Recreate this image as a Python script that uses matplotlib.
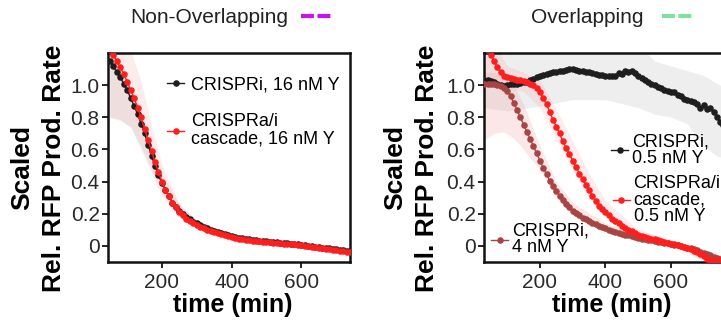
import numpy as np
import matplotlib
matplotlib.use("Agg")
import matplotlib.pyplot as plt
from matplotlib.lines import Line2D

plt.rcParams['font.family'] = ['Liberation Sans', 'DejaVu Sans']

# ---- data: Non-Overlapping (left) ----
t_left = np.arange(50, 741, 10)
crispri_16 = [1.15, 1.12, 1.08, 1.05, 1.01, 0.97, 0.92, 0.87, 0.82, 0.76,
              0.70, 0.63, 0.56, 0.50, 0.44, 0.39, 0.35, 0.31, 0.27, 0.24,
              0.22, 0.20, 0.18, 0.165, 0.15, 0.14, 0.13, 0.12, 0.11, 0.10,
              0.095, 0.088, 0.082, 0.075, 0.068, 0.062, 0.057, 0.052, 0.048, 0.044,
              0.041, 0.038, 0.035, 0.032, 0.030, 0.028, 0.026, 0.024, 0.022, 0.021,
              0.019, 0.017, 0.015, 0.012, 0.010, 0.007, 0.004, 0.002, -0.001, -0.004,
              -0.007, -0.010, -0.013, -0.016, -0.019, -0.022, -0.024, -0.027, -0.030, -0.032]
cascade_16 = [1.22, 1.19, 1.15, 1.11, 1.07, 1.02, 0.97, 0.92, 0.86, 0.80,
              0.73, 0.66, 0.59, 0.52, 0.46, 0.40, 0.35, 0.31, 0.27, 0.24,
              0.21, 0.19, 0.17, 0.155, 0.14, 0.13, 0.12, 0.11, 0.10, 0.092,
              0.085, 0.078, 0.072, 0.066, 0.060, 0.055, 0.050, 0.046, 0.042, 0.039,
              0.036, 0.033, 0.031, 0.029, 0.027, 0.025, 0.023, 0.021, 0.019, 0.017,
              0.015, 0.013, 0.011, 0.009, 0.007, 0.004, 0.002, -0.001, -0.004, -0.007,
              -0.010, -0.013, -0.017, -0.020, -0.023, -0.027, -0.030, -0.033, -0.037, -0.040]

# error bands (sparse)
band_t_left = [50, 80, 110, 140, 170, 200, 250, 300, 400, 500, 600, 740]
crispri_16_lo = [0.80, 0.78, 0.74, 0.60, 0.45, 0.31, 0.18, 0.11, 0.05, 0.02, 0.0, -0.04]
crispri_16_hi = [1.25, 1.15, 1.00, 0.85, 0.65, 0.45, 0.26, 0.16, 0.075, 0.04, 0.015, -0.025]
cascade_16_lo = [0.80, 0.79, 0.74, 0.62, 0.48, 0.33, 0.18, 0.11, 0.045, 0.018, -0.005, -0.055]
cascade_16_hi = [1.40, 1.35, 1.22, 1.02, 0.75, 0.50, 0.26, 0.16, 0.07, 0.035, 0.012, -0.028]

# ---- data: Overlapping (right) ----
t_right = np.arange(30, 771, 10)
crispri_05 = [1.03, 1.03, 1.025, 1.02, 1.01, 1.00, 0.995, 1.00, 1.005, 1.01,
              1.01, 1.015, 1.02, 1.02, 1.03, 1.04, 1.05, 1.06, 1.065, 1.07,
              1.075, 1.08, 1.08, 1.085, 1.09, 1.095, 1.10, 1.10, 1.095, 1.09,
              1.085, 1.08, 1.08, 1.075, 1.07, 1.065, 1.065, 1.06, 1.06, 1.055,
              1.06, 1.075, 1.07, 1.085, 1.08, 1.09, 1.075, 1.06, 1.045, 1.035,
              1.02, 1.01, 1.00, 0.99, 0.98, 0.97, 0.965, 0.96, 0.955, 0.94,
              0.935, 0.915, 0.905, 0.90, 0.895, 0.88, 0.86, 0.875, 0.85, 0.86,
              0.83, 0.80, 0.77, 0.75, 0.73]
cascade_05 = [1.25, 1.22, 1.19, 1.15, 1.11, 1.08, 1.06, 1.05, 1.045, 1.04,
              1.035, 1.03, 1.025, 1.02, 1.01, 1.00, 0.98, 0.955, 0.92, 0.88,
              0.83, 0.785, 0.74, 0.70, 0.65, 0.61, 0.57, 0.53, 0.49, 0.45,
              0.415, 0.38, 0.345, 0.31, 0.28, 0.25, 0.23, 0.21, 0.19, 0.17,
              0.155, 0.14, 0.125, 0.11, 0.10, 0.09, 0.08, 0.07, 0.062, 0.055,
              0.05, 0.045, 0.04, 0.035, 0.03, 0.025, 0.02, 0.015, 0.01, 0.005,
              0.0, -0.005, -0.01, -0.02, -0.03, -0.04, -0.05, -0.065, -0.08, -0.09,
              -0.09, -0.09, -0.09, -0.09, -0.09]
crispri_4 = [1.01, 1.01, 1.01, 1.005, 1.0, 0.995, 0.985, 0.965, 0.93, 0.89,
             0.845, 0.80, 0.755, 0.71, 0.665, 0.62, 0.575, 0.53, 0.485, 0.445,
             0.405, 0.37, 0.34, 0.31, 0.285, 0.26, 0.24, 0.22, 0.205, 0.19,
             0.175, 0.165, 0.155, 0.145, 0.135, 0.125, 0.118, 0.11, 0.10, 0.095,
             0.088, 0.082, 0.076, 0.07, 0.065, 0.06, 0.055, 0.05, 0.046, 0.042,
             0.038, 0.034, 0.03, 0.027, 0.024, 0.02, 0.016, 0.012, 0.008, 0.004,
             0.0, -0.005, -0.01, -0.016, -0.022, -0.028, -0.035, -0.042, -0.05, -0.058,
             -0.066, -0.074, -0.08, -0.085, -0.09]

band_t_grey = [30, 100, 200, 300, 400, 500, 550, 600, 650, 700, 740, 770]
crispri_05_lo = [0.86, 0.84, 0.87, 0.91, 0.91, 0.86, 0.82, 0.80, 0.76, 0.62, 0.56, 0.54]
crispri_05_hi = [1.25, 1.25, 1.25, 1.25, 1.25, 1.25, 1.15, 1.12, 1.09, 1.06, 1.01, 0.98]
band_t_4 = [30, 60, 90, 120, 150, 200, 250, 300, 400, 500, 600, 700, 770]
crispri_4_lo = [0.66, 0.70, 0.71, 0.67, 0.60, 0.47, 0.30, 0.19, 0.09, 0.035, 0.0, -0.055, -0.10]
crispri_4_hi = [1.08, 1.08, 1.06, 1.00, 0.88, 0.62, 0.40, 0.27, 0.14, 0.07, 0.03, -0.02, -0.07]
band_t_casc = [30, 100, 150, 200, 250, 300, 350, 400, 500, 600, 700, 770]
cascade_05_lo = [1.05, 0.98, 0.96, 0.86, 0.66, 0.47, 0.30, 0.18, 0.05, 0.0, -0.09, -0.12]
cascade_05_hi = [1.35, 1.12, 1.08, 1.03, 0.85, 0.65, 0.45, 0.28, 0.10, 0.04, -0.04, -0.07]

yticks = [0, 0.2, 0.4, 0.6, 0.8, 1.0]
yticklabels = ['0', '0.2', '0.4', '0.6', '0.8', '1.0']
xticks = [200, 400, 600]

black = '#1e1e1e'
red = '#ff1e1e'
brown = '#a84444'
grey_band = '#d0d0d0'
pink_band = '#f0a0a0'

fig = plt.figure(figsize=(7.21, 3.25), dpi=100)
ax1 = fig.add_axes([108/721, 63/325, 242/721, 209/325])
ax2 = fig.add_axes([484/721, 63/325, 242/721, 209/325])

mk = dict(marker='o', markersize=3.7, linewidth=1.0, zorder=3)

# left panel
ax1.fill_between(band_t_left, crispri_16_lo, crispri_16_hi, color=grey_band, alpha=0.35, lw=0, zorder=1)
ax1.fill_between(band_t_left, cascade_16_lo, cascade_16_hi, color=pink_band, alpha=0.2, lw=0, zorder=1)
l1, = ax1.plot(t_left, crispri_16, color=black, label='CRISPRi, 16 nM Y', **mk)
l2, = ax1.plot(t_left, cascade_16, color=red, label='CRISPRa/i\ncascade, 16 nM Y', **mk)
ax1.set_xlim(45, 740)

# right panel
ax2.fill_between(band_t_grey, crispri_05_lo, crispri_05_hi, color=grey_band, alpha=0.35, lw=0, zorder=1)
ax2.fill_between(band_t_4, crispri_4_lo, crispri_4_hi, color=pink_band, alpha=0.25, lw=0, zorder=1)
ax2.fill_between(band_t_casc, cascade_05_lo, cascade_05_hi, color=pink_band, alpha=0.2, lw=0, zorder=1)
r1, = ax2.plot(t_right, crispri_05, color=black, label='CRISPRi,\n0.5 nM Y', **mk)
r3, = ax2.plot(t_right, crispri_4, color=brown, label='CRISPRi,\n4 nM Y', **mk)
r2, = ax2.plot(t_right, cascade_05, color=red, label='CRISPRa/i\ncascade,\n0.5 nM Y', **mk)
ax2.set_xlim(29, 768)

for ax, lab_x, xl_x in [(ax1, -0.174, 0.517), (ax2, -0.186, 0.529)]:
    ax.set_ylim(-0.1, 1.2)
    ax.set_yticks(yticks)
    ax.set_yticklabels(yticklabels)
    ax.set_xticks(xticks)
    ax.tick_params(labelsize=15, labelcolor='#2a2a2a', length=4, width=1.2, pad=2)
    ax.tick_params(axis='x', pad=4)
    for s in ax.spines.values():
        s.set_linewidth(1.8)
        s.set_color('#111111')
    ax.set_ylabel('Scaled\nRel. RFP Prod. Rate', fontsize=19, fontweight='bold', linespacing=1.4)
    ax.yaxis.set_label_coords(lab_x, 0.45)
    ax.set_xlabel('time (min)', fontsize=18, fontweight='bold')
    ax.xaxis.set_label_coords(xl_x, -0.15)
    ax.xaxis.label.set_va('top')

leg_kw = dict(frameon=False, fontsize=13, handlelength=0.95,
              borderpad=0, borderaxespad=0, loc='upper left')

leg = ax1.legend(handles=[l1, l2], bbox_to_anchor=(0.245, 0.887), labelspacing=1.1,
                 handletextpad=0.35, **leg_kw)
for t in leg.get_texts():
    t.set_linespacing(1.0)

legs = []
for h, pos in [(r1, (0.525, 0.615)), (r2, (0.532, 0.415)), (r3, (0.03, 0.188))]:
    lg = ax2.legend(handles=[h], bbox_to_anchor=pos, handletextpad=0.2, **leg_kw)
    for t in lg.get_texts():
        t.set_linespacing(0.95)
    legs.append(lg)
for lg in legs[:-1]:
    ax2.add_artist(lg)

# panel headers with dashed colour keys
h_non = Line2D([], [], color='#cc11ee', lw=3, linestyle=(0, (3.1, 0.85)))
h_ovl = Line2D([], [], color='#80e0a0', lw=3, linestyle=(0, (3.1, 0.85)))
fig.legend([h_non], ['Non-Overlapping'], loc='center', bbox_to_anchor=(0.32, 0.945),
           frameon=False, markerfirst=False, fontsize=15, handlelength=1.42, handletextpad=0.6,
           labelcolor='#222222')
fig.legend([h_ovl], ['Overlapping'], loc='center', bbox_to_anchor=(0.848, 0.945),
           frameon=False, markerfirst=False, fontsize=15, handlelength=1.42, handletextpad=0.9,
           labelcolor='#222222')

fig.savefig('out.png', dpi=100)
